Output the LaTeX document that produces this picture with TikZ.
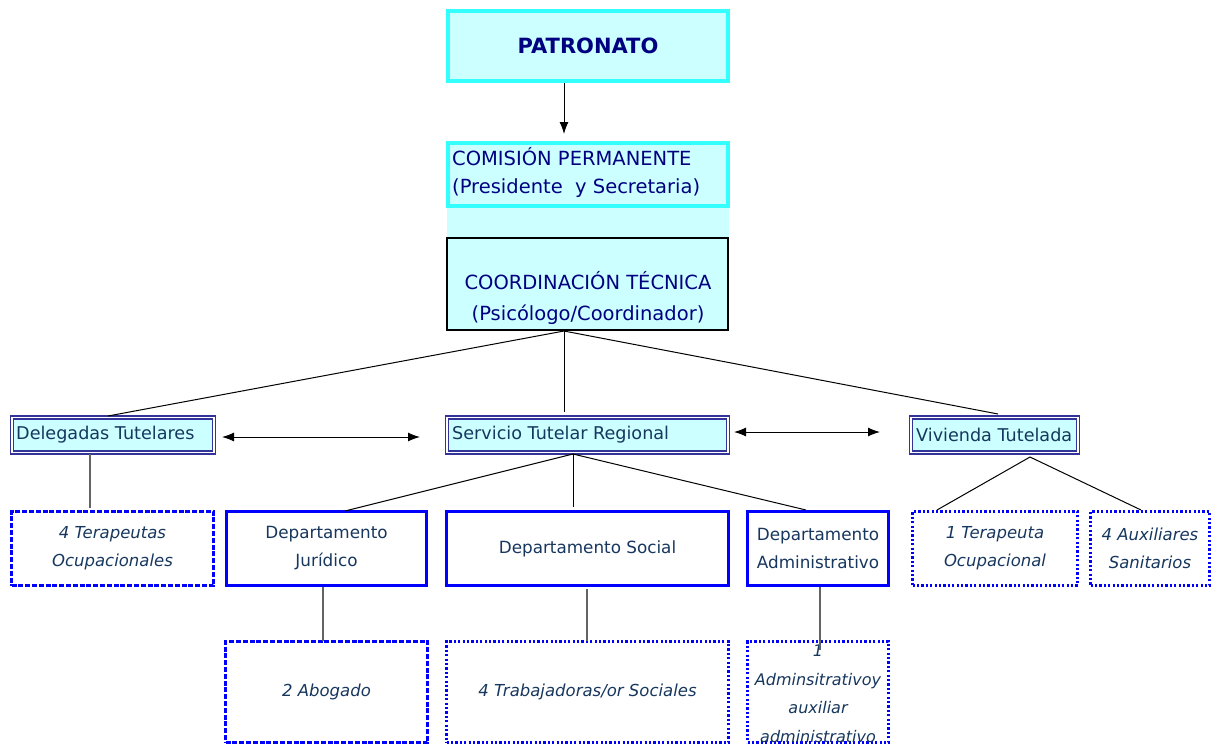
\documentclass[tikz,border=0pt]{standalone}
\usepackage{fontspec}
\setmainfont{DejaVu Sans}
\usetikzlibrary{arrows.meta}
\definecolor{cyb}{RGB}{51,255,255}
\definecolor{lcy}{RGB}{204,255,255}
\definecolor{navy}{RGB}{0,0,128}
\definecolor{dnavy}{RGB}{23,55,94}
\definecolor{dbl}{RGB}{51,51,153}
\definecolor{bblue}{RGB}{0,0,255}
\definecolor{gline}{RGB}{100,100,100}
\tikzset{
  cybox/.style={draw=cyb, line width=4pt, fill=lcy, inner sep=0pt},
  blkbox/.style={draw=black, line width=2pt, fill=lcy, inner sep=0pt},
  dblbox/.style={draw=dbl, double=white, line width=1.7pt, double distance=1.3pt, fill=lcy, inner sep=0pt},
  deptbox/.style={draw=bblue, line width=2.6pt, fill=white, inner sep=0pt, text=dnavy, align=center, font=\fontsize{16.8}{28}\selectfont},
  dashbox/.style={draw=bblue, line width=2.2pt, dash pattern=on 5pt off 1.8pt, fill=white, inner sep=0pt, text=dnavy, align=center, font=\fontsize{16.5}{28}\itshape\selectfont},
  dotbox/.style={draw=bblue, line width=2.6pt, dash pattern=on 2.2pt off 2.2pt, fill=white, inner sep=0pt, text=dnavy, align=center, font=\fontsize{16.5}{28}\itshape\selectfont},
  txt/.style={inner sep=0pt, font=\fontsize{17.6}{28}\selectfont},
  thin/.style={draw=black, line width=1pt},
  gray/.style={draw=gline, line width=1.6pt},
  arr/.style={thin, -{Latex[length=12pt,width=9pt]}},
  darr/.style={thin, {Latex[length=12pt,width=9pt]}-{Latex[length=12pt,width=9pt]}},
}
\begin{document}
\begin{tikzpicture}[x=1pt,y=-1pt]
\useasboundingbox (0,0) rectangle (1212,745);
% top boxes
\node[cybox, minimum width=280pt, minimum height=70pt] (pat) at (588,46) {};
\node[txt, text=navy, font=\fontsize{21}{24}\bfseries\selectfont] at (588,46) {PATRONATO};
\node[cybox, minimum width=280pt, minimum height=63pt] (com) at (588,174.5) {};
\node[txt, text=navy, anchor=west, align=left, font=\fontsize{19.5}{28}\selectfont] at (452,172) {COMISIÓN PERMANENTE\\(Presidente\ \ y Secretaria)};
\fill[lcy] (447,208) rectangle (729,237);
\node[blkbox, minimum width=281pt, minimum height=92pt] (coo) at (587.5,283.5) {};
\node[txt, text=navy, align=center, font=\fontsize{19.5}{28}\selectfont] at (588,297.5) {COORDINACIÓN TÉCNICA\\[3pt](Psicólogo/Coordinador)};
\draw[arr] (pat.south -| 564,0) -- (564,134);
% second level
\node[dblbox, minimum width=202pt, minimum height=35pt] (del) at (113,435) {};
\node[txt, text=dnavy, anchor=west] at (16,435) {Delegadas Tutelares};
\node[dblbox, minimum width=281pt, minimum height=35pt] (ser) at (587.5,435) {};
\node[txt, text=dnavy, anchor=west] at (452,435) {Servicio Tutelar Regional};
\node[dblbox, minimum width=167pt, minimum height=35pt] (viv) at (994.5,435) {};
\node[txt, text=dnavy, anchor=west] at (916,435) {Vivienda Tutelada};
\coordinate (cb) at (564,331);
\draw[thin] (cb) -- (108,416);
\draw[thin] (cb) -- (564,412);
\draw[thin] (cb) -- (998,414);
\draw[darr] (222,437) -- (420,437);
\draw[darr] (734,432) -- (880,432);
% third level
\node[dashbox, minimum width=202pt, minimum height=74pt] (ter4) at (112.5,548.5) {4 Terapeutas\\Ocupacionales};
\node[deptbox, minimum width=200pt, minimum height=74pt] (jur) at (326.5,548.5) {Departamento\\Jurídico};
\node[deptbox, minimum width=282pt, minimum height=74pt] (soc) at (587.5,548.5) {Departamento Social};
\node[deptbox, minimum width=141pt, minimum height=74pt] (adm) at (818,548.5) {Departamento\\Administrativo};
\node[dotbox, minimum width=165pt, minimum height=74pt] (ter1) at (995,548.5) {1 Terapeuta\\Ocupacional};
\node[dotbox, minimum width=119pt, minimum height=74pt] (aux) at (1150,548.5) {4 Auxiliares\\Sanitarios};
\draw[gray] (90,454) -- (90,508);
\coordinate (sb) at (573,454);
\draw[thin] (sb) -- (345,511);
\draw[thin] (sb) -- (573,507);
\draw[thin] (sb) -- (806,510);
\coordinate (vb) at (1030,457);
\draw[thin] (vb) -- (937,510);
\draw[thin] (vb) -- (1141,510);
% fourth level
\node[dashbox, minimum width=202pt, minimum height=101pt] (abo) at (326.5,692) {2 Abogado};
\node[dotbox, minimum width=282pt, minimum height=101pt] (tra) at (587.5,692) {4 Trabajadoras/or Sociales};
\node[dotbox, minimum width=141pt, minimum height=101pt] (aad) at (818,692) {};
\node[txt, text=dnavy, align=center, font=\fontsize{16}{28.5}\itshape\selectfont] at (818,694) {1\\Adminsitrativoy\\auxiliar\\administrativo};
\draw[gray] (323,587) -- (323,641);
\draw[gray] (587,589) -- (587,641);
\draw[gray] (820,587) -- (820,650);
\end{tikzpicture}
\end{document}
